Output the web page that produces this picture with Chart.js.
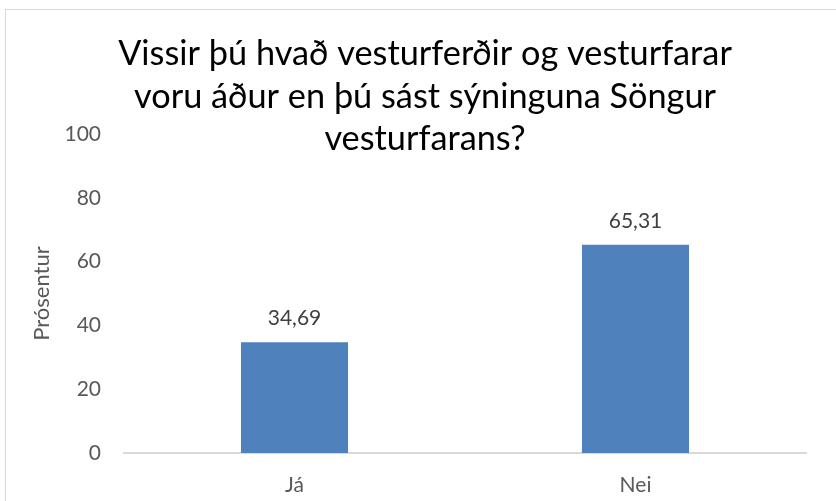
<!DOCTYPE html>
<html>
<head>
<meta charset="utf-8">
<script src="https://cdn.jsdelivr.net/npm/chart.js@4/dist/chart.umd.min.js"></script>
<style>
  html, body { margin: 0; padding: 0; background: #fff; }
  #chart { display: block; }
</style>
</head>
<body>
<canvas id="chart" width="836" height="501"></canvas>
<script>
"use strict";

const categories = ['Já', 'Nei'];
const percentages = [34.69, 65.31];
const titleLines = ['Vissir þú hvað vesturferðir og vesturfarar', 'voru áður en þú sást sýninguna Söngur', 'vesturfarans?'];
const yAxisTitle = 'Prósentur';

const FONT = 'Lato, "Open Sans", sans-serif';

// outer frame, title overlapping the plot, and values above the bars
const decorations = {
  id: 'decorations',
  beforeDraw(chart) {
    const ctx = chart.ctx;
    ctx.save();
    ctx.fillStyle = '#ffffff';
    ctx.fillRect(0, 0, chart.width, chart.height);
    ctx.strokeStyle = '#d9d9d9';
    ctx.lineWidth = 1;
    ctx.strokeRect(5.5, 9.5, chart.width + 20, chart.height + 20);
    ctx.restore();
  },
  afterDatasetsDraw(chart) {
    const ctx = chart.ctx;
    ctx.save();
    ctx.fillStyle = '#404040';
    ctx.font = '21px ' + FONT;
    ctx.textAlign = 'center';
    ctx.textBaseline = 'alphabetic';
    chart.getDatasetMeta(0).data.forEach((bar, i) => {
      const text = percentages[i].toFixed(2).replace('.', ',');
      ctx.fillText(text, bar.x, bar.y - 17);
    });
    ctx.restore();
  },
  afterDraw(chart) {
    const ctx = chart.ctx;
    ctx.save();
    let size = 34;
    ctx.font = size + 'px ' + FONT;
    const w = ctx.measureText(titleLines[0]).width;
    size = size * 614 / w;
    ctx.font = size + 'px ' + FONT;
    ctx.fillStyle = '#000000';
    ctx.textAlign = 'center';
    ctx.textBaseline = 'alphabetic';
    titleLines.forEach((line, i) => {
      ctx.fillText(line, 425, 65 + i * 42.5);
    });
    ctx.restore();
  }
};

document.addEventListener("DOMContentLoaded", function () {
  const canvasElement = document.getElementById("chart");
  new Chart(canvasElement, {
    type: 'bar',
    data: {
      labels: categories,
      datasets: [{
        label: yAxisTitle,
        data: percentages,
        backgroundColor: '#4f81bd',
        borderWidth: 0,
        categoryPercentage: 1,
        barPercentage: 0.314,
      }],
    },
    options: {
      responsive: false,
      animation: false,
      layout: {
        padding: { top: 134, right: 30, left: 0, bottom: 0 },
      },
      scales: {
        x: {
          grid: { display: false, drawTicks: false },
          border: { display: true, color: '#d9d9d9', width: 2 },
          ticks: {
            color: '#595959',
            font: { family: FONT, size: 21 },
            padding: 20,
          },
          afterFit(scale) {
            scale.height = 48;
          },
        },
        y: {
          min: 0,
          max: 100,
          grid: { display: false, drawTicks: false },
          border: { display: false },
          ticks: {
            stepSize: 20,
            color: '#595959',
            font: { family: FONT, size: 21 },
            padding: 23,
          },
          title: {
            display: true,
            text: yAxisTitle,
            color: '#595959',
            font: { family: FONT, size: 22 },
            padding: { top: 29, bottom: 0 },
          },
          afterFit(scale) {
            scale.width = 124;
          },
        },
      },
      plugins: {
        legend: { display: false },
        title: { display: false },
        tooltip: { enabled: false },
      },
    },
    plugins: [decorations],
  });
});
</script>
</body>
</html>
